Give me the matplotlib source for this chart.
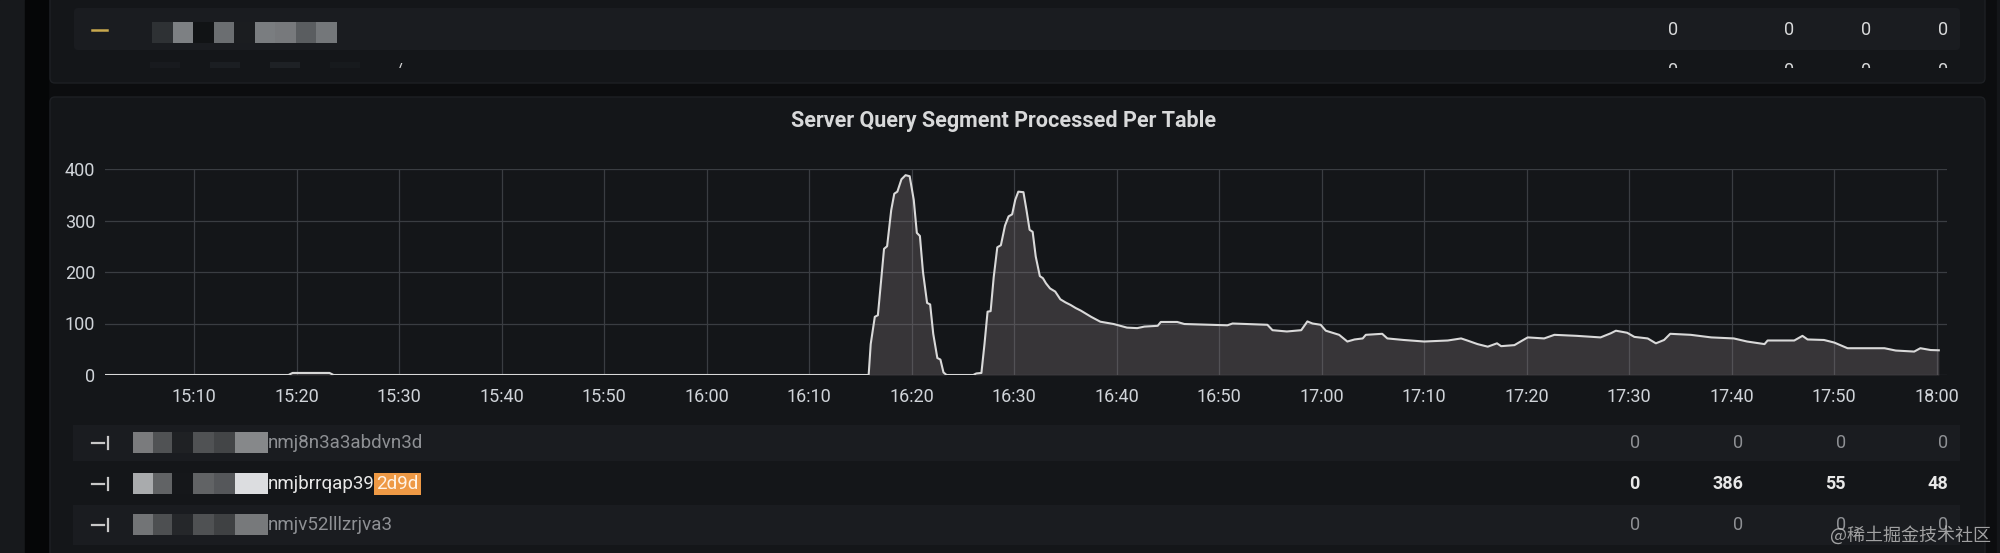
#!/usr/bin/env python3

from datetime import datetime, timedelta
import matplotlib
matplotlib.use("Agg")
import matplotlib.pyplot as plt
import matplotlib.dates as mdates
from matplotlib.patches import Rectangle, FancyBboxPatch

plt.rcParams['font.family'] = ['Roboto', 'DejaVu Sans']

START = datetime(2023, 1, 1, 15, 0)

# minutes after 15:00 and segments processed at that time
minutes = [
    1.0, 19.2, 19.6, 23.2, 23.6, 75.8,
    76.0, 76.4, 76.7, 77.0, 77.3, 77.6, 78.0, 78.3, 78.6, 79.0, 79.4, 79.8,
    80.2, 80.5, 80.8, 81.1, 81.5, 81.8, 82.1, 82.5, 82.8, 83.1, 83.4,
    86.0, 86.3, 86.8, 87.1, 87.4, 87.7, 88.0, 88.35, 88.7, 89.1, 89.45, 89.8,
    90.1, 90.4, 90.9, 91.2, 91.5, 91.8, 92.1, 92.5, 92.8, 93.1, 93.5, 94.0,
    94.5, 95.0, 95.5, 96.0, 96.5,
    97.5, 98.4, 99.7, 101.0, 102.0, 102.7, 104.0, 104.3, 105.9, 106.6,
    110.8, 111.3, 114.7, 115.2, 116.6, 118.0, 118.6, 119.1, 119.9, 120.4,
    121.7, 122.5, 123.2, 124.0, 124.3, 125.9, 126.4, 128.0, 130.0, 132.3,
    133.6, 134.2, 135.2, 136.2, 137.1, 137.5, 138.8, 139.4, 140.1, 141.7,
    142.7, 144.9, 147.2, 148.2, 148.7, 149.8, 150.5, 151.8, 152.6, 153.4,
    154.0, 156.0, 158.0, 160.2, 161.5, 163.2, 163.5, 166.1, 166.9, 167.4,
    169.0, 170.0, 171.3, 174.9, 176.0, 177.8, 178.4, 179.4, 180.2,
]
segments = [
    0, 0, 4, 4, 0, 0,
    60, 113, 116, 180, 245, 250, 320, 352, 356, 380, 388, 386,
    340, 276, 270, 200, 140, 137, 80, 33, 30, 5, 0,
    0, 3, 4, 60, 123, 124, 190, 248, 252, 290, 308, 312,
    340, 356, 355, 320, 282, 278, 230, 192, 188, 178, 168, 162,
    147, 141, 136, 130, 125,
    113, 103.5, 99, 92, 91, 94, 95.5, 103, 103, 99,
    96.5, 100, 97.5, 87, 84.5, 87, 104, 100, 97.5, 86,
    78, 65, 69, 71, 78, 80, 71, 68, 65, 67,
    71, 67, 60, 55, 61.5, 56, 58, 65, 73, 71,
    78, 76, 73, 81, 86, 82, 74, 71, 61.5, 68,
    80, 78, 73, 71, 65, 60, 67, 67, 76, 69,
    68, 63, 52, 52, 47.5, 45.5, 52, 48.5, 48,
]

TITLE = "Server Query Segment Processed Per Table"
legend_names = ["nmj8n3a3abdvn3d", "nmjbrrqap39", "nmjv52lllzrjva3"]
highlight = "2d9d"
legend_stats = [[0, 0, 0, 0], [0, 386, 55, 48], [0, 0, 0, 0]]
top_stats = [0, 0, 0, 0]
watermark = "@稀土掘金技术社区"

PAGE = '#0c0d0f'
PANEL = '#141619'
ROW = '#1a1c20'
TEXT = '#d8d9da'
DIM = '#8e9094'

# grey levels of the mosaic (censored) blocks in each legend row
mosaic = [
    ['#7a7b7d', '#505254', '#1f2124', '#505254', '#434547', '#86888a'],
    ['#a9abad', '#616365', '#15171a', '#616365', '#55575a', '#dcdde0'],
    ['#727476', '#4d4f51', '#25272a', '#4f5153', '#3f4143', '#77797b'],
]
mosaic_x = [133, 153, 172, 193, 214, 235, 268]
top_mosaic = ['#2e3134', '#7d8083', '#111315', '#6b6e71', '#1b1d20', '#7a7d80', '#77797c', '#5a5d60', '#74777a']


def background(bg):
    bg.add_patch(Rectangle((0, 0), 2000, 553, color=PAGE))
    bg.add_patch(Rectangle((0, 0), 25, 553, color='#17191c'))
    bg.add_patch(Rectangle((25, 0), 23, 553, color='#050607'))
    bg.add_patch(Rectangle((1997, 0), 3, 553, color='#141619'))
    for y0, h in [(-20, 103), (97, 480)]:
        bg.add_patch(FancyBboxPatch((50, y0), 1935, h, boxstyle='round,pad=0,rounding_size=5',
                                    fc=PANEL, ec='#1e2024', lw=1))


def top_panel(bg):
    bg.add_patch(FancyBboxPatch((74, 8), 1886, 42, boxstyle='round,pad=0,rounding_size=4',
                                fc=ROW, ec='none'))
    bg.plot([92, 107], [30, 30], color='#c9a94e', lw=1.8)
    x = 152
    for c in top_mosaic:
        bg.add_patch(Rectangle((x, 22), 20.5, 21, color=c, lw=0))
        x += 20.5
    # second row is cut off by the bottom of the panel
    clip = Rectangle((50, 0), 1935, 68, transform=bg.transData)
    for xr, v in zip([1678, 1794, 1871, 1948], top_stats):
        bg.text(xr, 30, str(v), ha='right', va='center', fontsize=13, color=TEXT)
        t = bg.text(xr, 71, str(v), ha='right', va='center', fontsize=13, color=TEXT)
        t.set_clip_on(True)
        t.set_clip_path(clip)
    for i, c in enumerate(['#181a1e', '#1b1e22', '#1e2125', '#171a1d']):
        r = Rectangle((150 + i * 60, 62), 30, 18, color=c, lw=0)
        bg.add_patch(r)
        r.set_clip_path(clip)
    t = bg.text(399, 70, '/', ha='center', va='center', fontsize=12, color=TEXT)
    t.set_clip_on(True)
    t.set_clip_path(clip)


def legend(fig, bg):
    bg.add_patch(Rectangle((73, 425), 1887, 36, color=ROW, lw=0))
    bg.add_patch(Rectangle((73, 505), 1887, 40, color=ROW, lw=0))
    rows_y = [443, 484, 525]
    for i, y in enumerate(rows_y):
        strong = i == 1
        col = '#e8e8e8' if strong else DIM
        bg.plot([92, 104], [y, y], color='#c8c8c8', lw=1.6)
        bg.plot([108, 108], [y - 6, y + 6], color='#c8c8c8', lw=1.6)
        for j, c in enumerate(mosaic[i]):
            bg.add_patch(Rectangle((mosaic_x[j], y - 11), mosaic_x[j + 1] - mosaic_x[j], 21,
                                   color=c, lw=0))
        name = bg.text(268, y, legend_names[i], ha='left', va='center', fontsize=13.5, color=col)
        if strong:
            fig.canvas.draw()
            ext = name.get_window_extent().transformed(bg.transData.inverted())
            bg.text(ext.x1 + 1, y, highlight, ha='left', va='center', fontsize=13.5, color='#fff3e6',
                    bbox=dict(boxstyle='square,pad=0.12', fc='#ee9945', ec='none'))
        for xr, v in zip([1640, 1743, 1846, 1948], legend_stats[i]):
            bg.text(xr, y, str(v), ha='right', va='center', fontsize=13, color=col,
                    fontweight='bold' if strong else 'normal')


def plot():
    fig = plt.figure(figsize=(20, 5.53), dpi=100)
    bg = fig.add_axes([0, 0, 1, 1])
    bg.set_xlim(0, 2000)
    bg.set_ylim(553, 0)
    bg.axis('off')

    background(bg)
    top_panel(bg)
    bg.text(1004, 121, TITLE, ha='center', va='center', fontsize=15.5, fontweight='bold', color=TEXT)

    # chart area in pixels: left 105, right 1947, top 169, bottom 375
    ax = fig.add_axes([105 / 2000, (553 - 375) / 553, 1842 / 2000, 206 / 553])
    ax.set_facecolor(PANEL)
    times = [START + timedelta(minutes=m) for m in minutes]
    ax.fill_between(times, segments, 0, color='#8a8082', alpha=0.3, lw=0, zorder=2)
    ax.plot(times, segments, color='#d9d9d9', lw=1.5, zorder=3)

    ax.set_xlim(START + timedelta(minutes=1.3), START + timedelta(minutes=181))
    ax.set_ylim(0, 400)
    ax.set_yticks([0, 100, 200, 300, 400])
    ax.xaxis.set_major_locator(mdates.MinuteLocator(byminute=range(0, 60, 10)))
    ax.xaxis.set_major_formatter(mdates.DateFormatter('%H:%M'))
    ax.tick_params(length=0, labelsize=13, colors='#d0d4d9')
    ax.tick_params(axis='x', pad=9)
    ax.tick_params(axis='y', pad=7)
    ax.grid(True, color='#3a3d42', lw=0.9)
    ax.set_axisbelow(True)
    for s in ax.spines.values():
        s.set_visible(False)

    legend(fig, bg)

    bg.text(1991, 535, watermark, ha='right', va='center', fontsize=13, color='#c4c4c4', alpha=0.8,
            family=['Noto Sans CJK SC', 'DejaVu Sans'], zorder=10)

    fig.savefig('out.png', dpi=100, facecolor=PAGE)


if __name__ == "__main__":
    plot()
